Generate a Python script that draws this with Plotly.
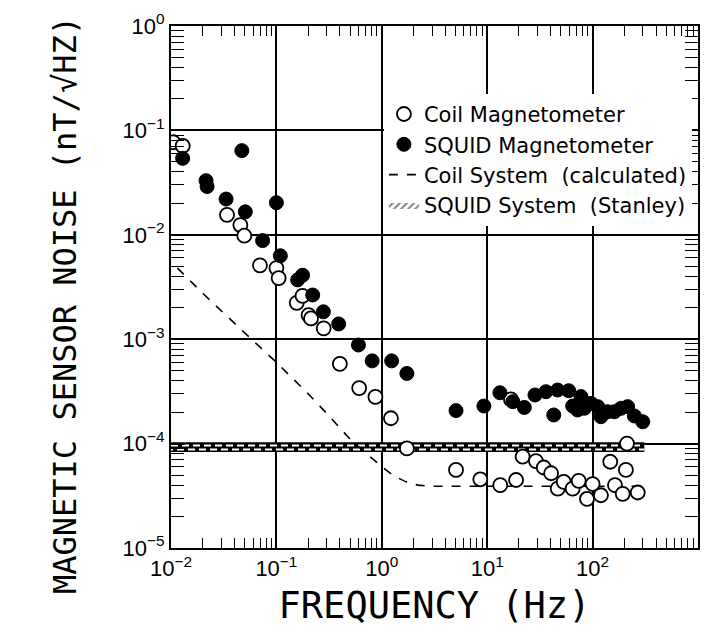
import plotly.graph_objects as go

# ---------------- data ----------------
coil_freq = [0.0105, 0.0129, 0.034, 0.0455, 0.0496, 0.0698, 0.100, 0.105, 0.156, 0.177,
             0.202, 0.213, 0.281, 0.40, 0.61, 0.87, 1.22, 1.73, 5.06, 8.6,
             13.3, 16.8, 18.8, 21.7, 29, 34.4, 40.4, 46.7, 53.2, 64.7,
             73.8, 88.5, 100, 120, 147, 163, 193, 207, 212, 268]
coil_noise = [0.077, 0.071, 0.0155, 0.0124, 0.0098, 0.0051, 0.0048, 0.00385, 0.00223, 0.0026,
              0.0017, 0.00158, 0.00127, 0.00058, 0.00034, 0.00028, 0.000175, 0.00009, 5.6e-5, 4.55e-5,
              4.0e-5, 2.65e-4, 4.48e-5, 7.5e-5, 6.8e-5, 5.9e-5, 5.2e-5, 3.7e-5, 4.3e-5, 3.7e-5,
              4.4e-5, 2.95e-5, 4.1e-5, 3.2e-5, 6.7e-5, 4.0e-5, 3.3e-5, 5.6e-5, 1.0e-4, 3.4e-5]

squid_freq = [0.0129, 0.0215, 0.022, 0.0333, 0.047, 0.0507, 0.074, 0.100, 0.109, 0.159,
              0.177, 0.221, 0.279, 0.39, 0.60, 0.81, 1.24, 1.73, 5.06, 9.3,
              13.2, 17.5, 22.5, 28.4, 36.1, 42.8, 46.6, 59.3, 64.7, 72,
              77.6, 83.5, 96.7, 112, 120, 139, 161, 186, 215, 249, 299]
squid_noise = [0.054, 0.033, 0.029, 0.022, 0.064, 0.0166, 0.0088, 0.0203, 0.0063, 0.0037,
               0.0041, 0.00265, 0.00183, 0.0014, 0.00088, 0.00062, 0.00062, 0.00047, 0.000207, 0.000229,
               0.000307, 0.000252, 0.000222, 0.000292, 0.000314, 0.000188, 0.000326, 0.000321, 0.000229, 0.00021,
               0.000282, 0.000218, 0.000243, 0.000226, 0.000181, 0.000202, 0.000202, 0.000218, 0.000226, 0.000184, 0.000162]

coil_sys_freq = [0.0115, 0.02, 0.05, 0.1, 0.2, 0.3, 0.5, 0.68, 1.0, 1.3, 1.7, 2.2, 3.0, 5, 10, 30, 100, 280]
coil_sys_noise = [4.8e-3, 2.75e-3, 1.15e-3, 6.0e-4, 3.0e-4, 1.95e-4, 1.1e-4, 8.4e-5, 6.0e-5, 4.9e-5,
                  4.3e-5, 4.0e-5, 3.9e-5, 3.9e-5, 3.9e-5, 3.9e-5, 3.9e-5, 3.9e-5]

stanley_freq = [0.01, 310]
stanley_upper = [1.03e-4, 1.03e-4]
stanley_lower = [8.3e-5, 8.3e-5]
stanley_row1 = [9.6e-5, 9.6e-5]
stanley_row2 = [8.8e-5, 8.8e-5]

x_tickvals = [1e-2, 1e-1, 1e0, 1e1, 1e2, 1e3]
x_ticktext = ["10<sup>−2</sup>", "10<sup>−1</sup>", "10<sup>0</sup>", "10<sup>1</sup>", "10<sup>2</sup>", "10<sup>3</sup>"]
y_tickvals = [1e-5, 1e-4, 1e-3, 1e-2, 1e-1, 1e0]
y_ticktext = ["10<sup>−5</sup>", "10<sup>−4</sup>", "10<sup>−3</sup>", "10<sup>−2</sup>", "10<sup>−1</sup>", "10<sup>0</sup>"]

x_minor = [m * 10.0 ** e for e in range(-2, 3) for m in range(2, 10)]
y_minor = [m * 10.0 ** e for e in range(-5, 0) for m in range(2, 10)]

# ---------------- figure ----------------
fig = go.Figure()

# SQUID system band (black with white dashes)
fig.add_trace(go.Scatter(x=stanley_freq, y=stanley_lower, mode="lines",
                         line=dict(width=0, color="black"), showlegend=False, hoverinfo="skip"))
fig.add_trace(go.Scatter(x=stanley_freq, y=stanley_upper, mode="lines", fill="tonexty",
                         fillcolor="black", line=dict(width=0, color="black"),
                         showlegend=False, hoverinfo="skip"))
fig.add_trace(go.Scatter(x=stanley_freq, y=stanley_row1, mode="lines",
                         line=dict(width=2, color="white", dash="7px,4px"),
                         showlegend=False, hoverinfo="skip"))
fig.add_trace(go.Scatter(x=stanley_freq, y=stanley_row2, mode="lines",
                         line=dict(width=2, color="white", dash="2px,4px,5px,0px"),
                         showlegend=False, hoverinfo="skip"))

# Coil system (calculated)
fig.add_trace(go.Scatter(x=coil_sys_freq, y=coil_sys_noise, mode="lines",
                         name="Coil System  (calculated)", legendrank=3,
                         line=dict(color="black", width=1.6, dash="dash")))

# Coil magnetometer (open circles)
fig.add_trace(go.Scatter(x=coil_freq, y=coil_noise, mode="markers",
                         name="Coil Magnetometer", legendrank=1,
                         marker=dict(symbol="circle", size=14, color="white",
                                     line=dict(color="black", width=1.8))))

# SQUID magnetometer (filled circles)
fig.add_trace(go.Scatter(x=squid_freq, y=squid_noise, mode="markers",
                         name="SQUID Magnetometer", legendrank=2,
                         marker=dict(symbol="circle", size=14, color="black",
                                     line=dict(color="black", width=1))))

# legend entry for the band
fig.add_trace(go.Scatter(x=[None], y=[None], mode="lines", fill="toself",
                         name="SQUID System  (Stanley)", legendrank=4,
                         fillcolor="white",
                         fillpattern=dict(shape="/", fgcolor="black", bgcolor="white", size=5, solidity=0.4),
                         line=dict(width=0, color="black")))

axis_common = dict(
    type="log",
    showline=True, linecolor="black", linewidth=2, mirror="allticks",
    ticks="inside", ticklen=14, tickwidth=1.5, tickcolor="black",
    showgrid=True, gridcolor="black", gridwidth=1.5,
    zeroline=False,
    tickfont=dict(family="Liberation Sans, Arial, sans-serif", size=22, color="black"),
)

fig.update_xaxes(**axis_common, range=[-2, 3], tickvals=x_tickvals, ticktext=x_ticktext,
                 minor=dict(tickmode="array", tickvals=x_minor, ticks="inside", ticklen=10,
                            tickwidth=1.3, tickcolor="black", showgrid=False),
                 title=dict(text="FREQUENCY (Hz)", standoff=12,
                            font=dict(family="DejaVu Sans Mono", size=37, color="black")))
fig.update_yaxes(**axis_common, range=[-5, 0], tickvals=y_tickvals, ticktext=y_ticktext,
                 minor=dict(tickmode="array", tickvals=y_minor, ticks="inside", ticklen=13,
                            tickwidth=1.3, tickcolor="black", showgrid=False))

fig.add_annotation(text="MAGNETIC SENSOR NOISE (nT/√HZ)", textangle=-90,
                   xref="paper", yref="paper", x=(57 - 163) / 527, y=(548 - 305) / 522,
                   xanchor="center", yanchor="middle", showarrow=False,
                   font=dict(family="DejaVu Sans Mono", size=32, color="black"))

fig.update_layout(
    width=703, height=626,
    margin=dict(l=163, r=13, t=18, b=86, autoexpand=False),
    plot_bgcolor="white", paper_bgcolor="white",
    font=dict(family="DejaVu Sans", color="black"),
    legend=dict(x=0.404, y=0.87, xanchor="left", yanchor="top",
                bgcolor="white", borderwidth=0, traceorder="normal",
                font=dict(family="DejaVu Sans", size=21, color="black"),
                tracegroupgap=0, itemwidth=30),
)

fig.write_html("out.html")
